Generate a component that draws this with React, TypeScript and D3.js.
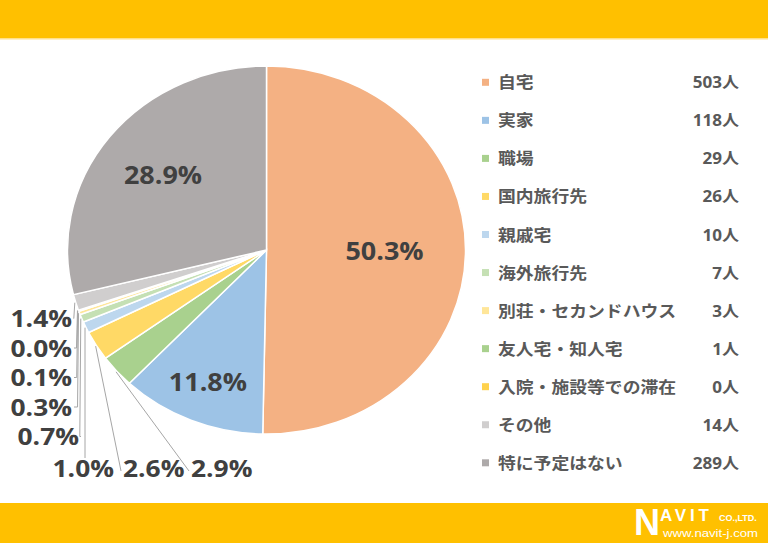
import React from 'react';
import * as d3 from 'd3';

const categories = [
  '自宅', '実家', '職場', '国内旅行先', '親戚宅', '海外旅行先',
  '別荘・セカンドハウス', '友人宅・知人宅', '入院・施設等での滞在', 'その他', '特に予定はない',
];
const counts = [503, 118, 29, 26, 10, 7, 3, 1, 0, 14, 289];
const colors = [
  '#F4B183', '#9DC3E6', '#A9D18E', '#FFD966', '#BDD7EE', '#C5E0B4',
  '#FFE699', '#A9D18E', '#FFD24D', '#D0CECE', '#AEAAAA',
];

const W = 768;
const H = 543;
const CX = 266.5;
const CY = 250;
const RY = 184;
const RX = 199;
const SX = RX / RY; // picture is stretched sideways a little
const TSX = 1.1;

const total = d3.sum(counts);
const pct = (v: number) => `${((v / total) * 100).toFixed(1)}%`;

// label radius factors for the big slices
const bigLabelK: Record<number, number> = { 0: 0.593, 1: 0.775, 10: 0.66 };

// placement of the small outside labels (baseline, anchor)
const stackRight = [72, 72, 72, 72, 79];
const stackOrder = [9, 8, 7, 6, 5];
const bottomRow: { i: number; x: number; anchor: 'start' | 'end' }[] = [
  { i: 4, x: 114, anchor: 'end' },
  { i: 3, x: 123, anchor: 'start' },
  { i: 2, x: 191, anchor: 'start' },
];

const Stretch: React.FC<{ x: number; y: number; anchor?: string; size: number; fill: string; weight?: number; family?: string; children: React.ReactNode }> =
  ({ x, y, anchor = 'start', size, fill, weight = 700, family = "'Open Sans', 'Noto Sans CJK JP', sans-serif", children }) => (
    <g transform={`translate(${x},${y}) scale(${TSX},1)`}>
      <text textAnchor={anchor} fontSize={size} fill={fill} fontWeight={weight} fontFamily={family}>{children}</text>
    </g>
  );

export default function App() {
  const pie = d3.pie<number>().value(d => d).sort(null);
  const arcs = pie(counts);
  const arc = d3.arc<d3.PieArcDatum<number>>().innerRadius(0).outerRadius(RY);

  const edge = (a: d3.PieArcDatum<number>, k = 1) => {
    const m = (a.startAngle + a.endAngle) / 2;
    return [CX + RX * k * Math.sin(m), CY - RY * k * Math.cos(m)];
  };

  const labelColor = '#404040';
  const lineColor = '#A6A6A6';

  const stacked = stackOrder.map((i, j) => {
    const base = 327 + j * 29.5;
    const cy = base - 8.5;
    const [sx, sy] = edge(arcs[i], 1.005);
    const right = stackRight[j];
    const path = `M${sx},${sy} L${sx - 1},${cy} L${right + 2},${cy}`;
    return { i, base, right, path };
  });

  const bottom = bottomRow.map(({ i, x, anchor }) => {
    const base = 477;
    const [sx, sy] = edge(arcs[i], 1.005);
    let ex: number, ey: number;
    if (anchor === 'end') { ex = sx; ey = base - 19; }
    else { ex = x - 2; ey = base - 6; }
    return { i, x, anchor, base, path: `M${sx},${sy} L${ex},${ey}` };
  });

  const legendY0 = 82.3;
  const legendStep = 38.05;

  return (
    <svg width={W} height={H} style={{ position: 'absolute', left: 0, top: 0, background: '#fff' }}>
      <rect x={0} y={0} width={W} height={H} fill="#fff" />
      <rect x={0} y={0} width={W} height={38} fill="#FFC000" />
      <rect x={0} y={38} width={W} height={1.5} fill="#FFE08A" />
      <rect x={0} y={503} width={W} height={40} fill="#FFC000" />

      <g transform={`translate(${CX},${CY}) scale(${SX},1)`}>
        {arcs.map((a, i) => (
          <path key={i} d={arc(a) || ''} fill={colors[i]} stroke="#fff" strokeWidth={1.5} vectorEffect="non-scaling-stroke" />
        ))}
      </g>

      {Object.keys(bigLabelK).map(k => {
        const i = +k;
        const [x, y] = edge(arcs[i], bigLabelK[i]);
        return <Stretch key={`b${i}`} x={x} y={y + 9} anchor="middle" size={24.5} fill={labelColor}>{pct(counts[i])}</Stretch>;
      })}

      <g fill="none" stroke={lineColor} strokeWidth={1}>
        {stacked.map(s => <path key={`sl${s.i}`} d={s.path} />)}
        {bottom.map(s => <path key={`bl${s.i}`} d={s.path} />)}
      </g>
      {stacked.map(s => (
        <Stretch key={`st${s.i}`} x={s.right} y={s.base} anchor="end" size={24} fill={labelColor}>{pct(counts[s.i])}</Stretch>
      ))}
      {bottom.map(s => (
        <Stretch key={`bt${s.i}`} x={s.x} y={s.base} anchor={s.anchor} size={24} fill={labelColor}>{pct(counts[s.i])}</Stretch>
      ))}

      {categories.map((c, i) => {
        const cy = legendY0 + i * legendStep;
        return (
          <g key={`lg${i}`}>
            <rect x={482} y={cy - 3.5} width={7} height={7} fill={colors[i]} />
            <Stretch x={498} y={cy + 6} size={16.2} fill="#595959" family="'Noto Sans CJK JP', sans-serif">{c}</Stretch>
            <Stretch x={739} y={cy + 6} anchor="end" size={15.5} fill="#595959">{`${counts[i]}人`}</Stretch>
          </g>
        );
      })}

      <g fill="#fff" fontFamily="'Liberation Sans', Arial, sans-serif" fontWeight={700}>
        <text x={634} y={535} fontSize={36}>N</text>
        <text x={660} y={521} fontSize={17} letterSpacing={3.8}>AVIT</text>
        <text x={719} y={521} fontSize={9}>CO.,LTD.</text>
        <text x={663} y={537} fontSize={11} fontWeight={400} textLength={95} lengthAdjust="spacingAndGlyphs">www.navit-j.com</text>
      </g>
    </svg>
  );
}
